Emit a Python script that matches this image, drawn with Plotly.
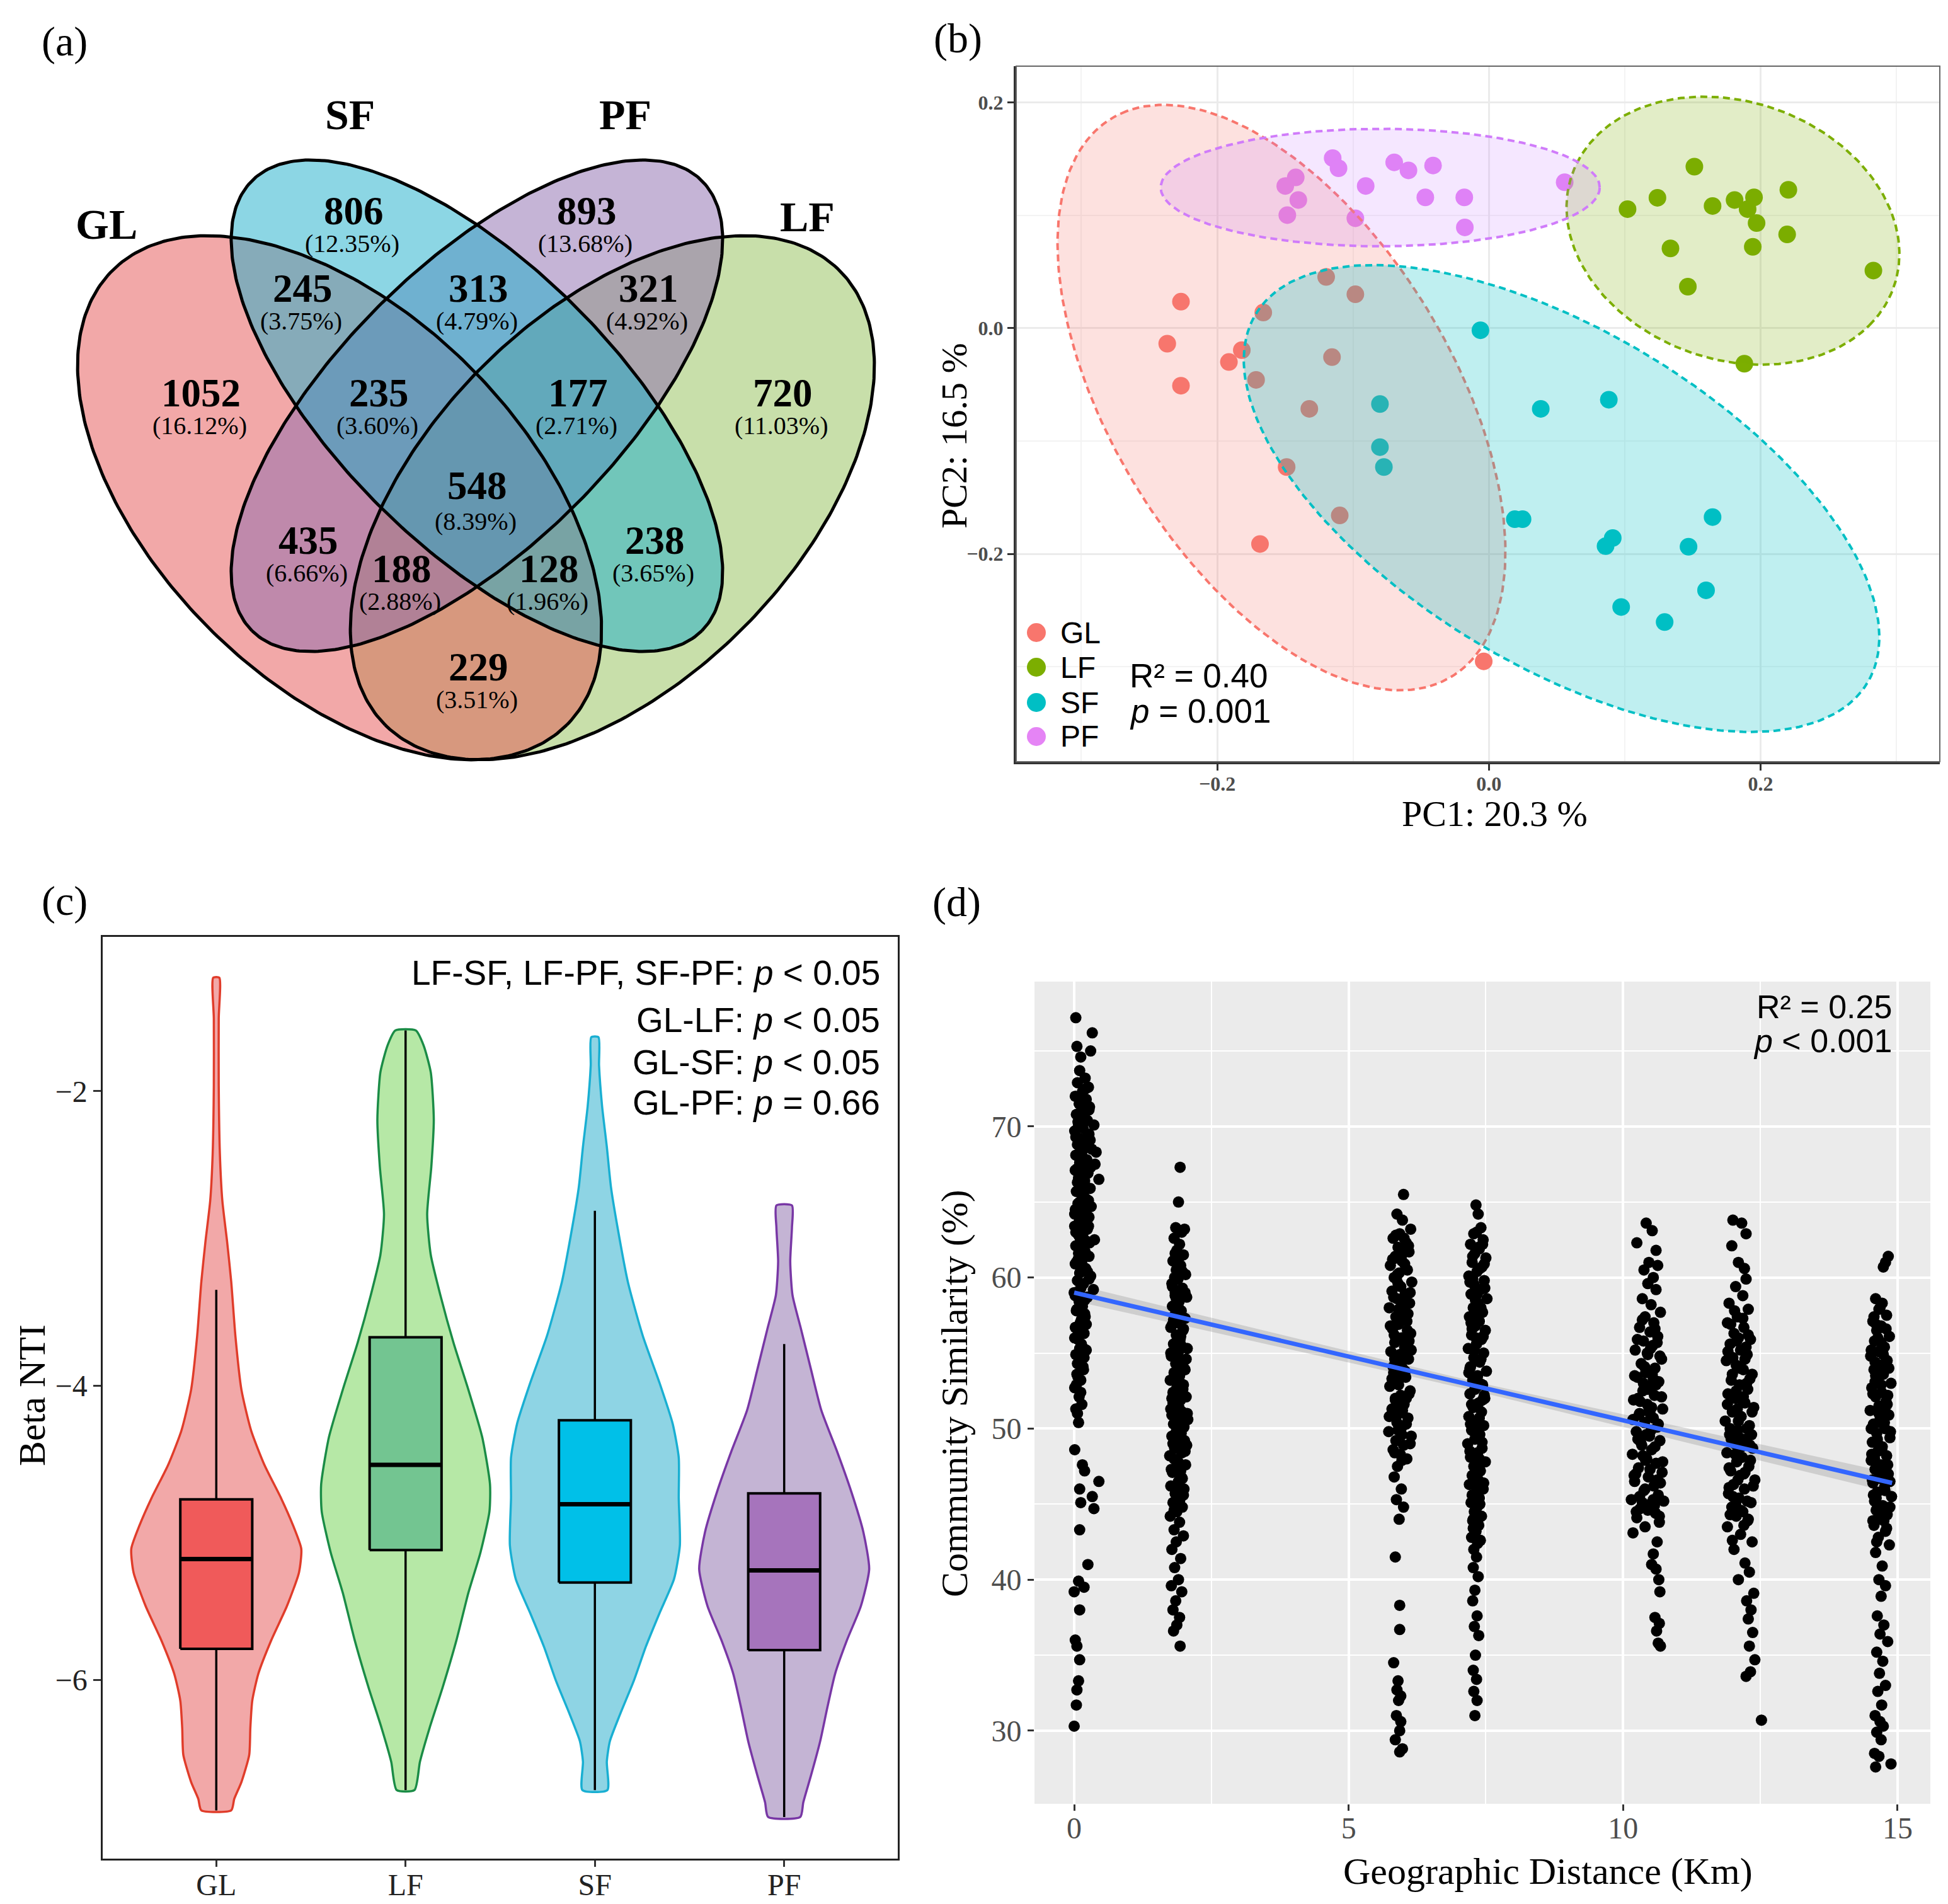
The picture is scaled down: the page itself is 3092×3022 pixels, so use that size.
import numpy as np
import plotly.graph_objects as go

W, H = 3092, 3022
SERIF = "Liberation Serif, Times New Roman, serif"
SANS = "Liberation Sans, Arial, sans-serif"


def pp(x, y):
    return x / W, 1 - y / H

# ======================= DATA =======================
# (a) Venn diagram
venn_counts = [1052, 806, 893, 720, 245, 313, 321, 235, 177, 548, 435, 188, 128, 238, 229]
venn_percent = ["16.12%", "12.35%", "13.68%", "11.03%", "3.75%", "4.79%", "4.92%",
                "3.60%", "2.71%", "8.39%", "6.66%", "2.88%", "1.96%", "3.65%", "3.51%"]
venn_sets = ["GL", "SF", "PF", "LF"]

# (b) PCoA
pc_groups = ["GL", "LF", "SF", "PF"]
gl_pc1 = [-0.2267, -0.2368, -0.2267, -0.1819, -0.1914, -0.1714, -0.1661, -0.1198, -0.0983, -0.1155, -0.1322, -0.1489, -0.1098, -0.1685, -0.0038]
gl_pc2 = [0.0234, -0.0138, -0.0510, -0.0195, -0.0300, -0.0458, 0.0138, 0.0453, 0.0300, -0.0257, -0.0715, -0.1230, -0.1659, -0.1912, -0.2951]
lf_pc1 = [0.1513, 0.1021, 0.1241, 0.1647, 0.1809, 0.1952, 0.1905, 0.2205, 0.1971, 0.2196, 0.1337, 0.1943, 0.1465, 0.2831, 0.1881]
lf_pc2 = [0.1430, 0.1054, 0.1154, 0.1082, 0.1135, 0.1158, 0.1054, 0.1225, 0.0930, 0.0830, 0.0706, 0.0720, 0.0367, 0.0510, -0.0315]
sf_pc1 = [-0.0062, -0.0802, -0.0802, -0.0773, 0.0382, 0.0883, 0.0191, 0.0248, 0.0912, 0.0859, 0.1647, 0.1470, 0.1599, 0.0974, 0.1294]
sf_pc2 = [-0.0019, -0.0672, -0.1054, -0.1230, -0.0715, -0.0634, -0.1692, -0.1692, -0.1859, -0.1931, -0.1673, -0.1936, -0.2322, -0.2470, -0.2603]
pf_pc1 = [-0.1150, -0.1107, -0.1422, -0.1499, -0.1403, -0.1484, -0.0983, -0.0907, -0.0697, -0.0592, -0.0411, -0.0468, -0.0181, -0.0177, 0.0558]
pf_pc2 = [0.1506, 0.1416, 0.1335, 0.1259, 0.1135, 0.1001, 0.0973, 0.1259, 0.1468, 0.1397, 0.1440, 0.1158, 0.1158, 0.0892, 0.1292]
# 95% ellipses: centre x, centre y, semi-major, semi-minor, angle (deg)
ell_cx = [-0.1527, 0.1797, 0.0535, -0.0800]
ell_cy = [-0.0615, 0.0863, -0.1509, 0.1245]
ell_a = [0.2781, 0.1308, 0.2794, 0.1616]
ell_b = [0.1306, 0.1095, 0.1393, 0.0520]
ell_ang = [114.2, -39.8, -39.1, 0.0]

# (c) Beta NTI violins (y level, half width in category units)
vio_gl_y = [-1.228, -1.504, -1.963, -2.423, -2.744, -3.020, -3.295, -3.663, -4.030, -4.306, -4.536, -4.765, -4.949, -5.110, -5.271, -5.500, -5.730, -5.960, -6.143, -6.327, -6.511, -6.695, -6.810, -6.888]
vio_gl_w = [0.016, 0.013, 0.013, 0.019, 0.032, 0.057, 0.079, 0.101, 0.133, 0.184, 0.253, 0.342, 0.405, 0.449, 0.437, 0.373, 0.291, 0.222, 0.190, 0.180, 0.174, 0.133, 0.095, 0.079]
vio_lf_y = [-1.587, -1.688, -1.871, -2.193, -2.514, -2.836, -3.112, -3.387, -3.709, -4.030, -4.352, -4.673, -4.857, -5.133, -5.408, -5.730, -6.051, -6.327, -6.557, -6.750]
vio_lf_w = [0.054, 0.095, 0.133, 0.149, 0.136, 0.114, 0.133, 0.184, 0.253, 0.332, 0.405, 0.446, 0.443, 0.396, 0.332, 0.269, 0.196, 0.127, 0.076, 0.047]
vio_sf_y = [-1.633, -1.825, -2.101, -2.377, -2.652, -2.928, -3.295, -3.663, -3.984, -4.260, -4.490, -4.765, -5.087, -5.316, -5.546, -5.776, -6.006, -6.235, -6.419, -6.557, -6.750]
vio_sf_w = [0.019, 0.022, 0.038, 0.063, 0.085, 0.120, 0.174, 0.253, 0.342, 0.411, 0.443, 0.443, 0.449, 0.418, 0.342, 0.269, 0.206, 0.133, 0.079, 0.063, 0.066]
vio_pf_y = [-2.776, -2.928, -3.158, -3.387, -3.617, -3.893, -4.168, -4.444, -4.720, -4.995, -5.248, -5.500, -5.730, -5.960, -6.189, -6.419, -6.649, -6.833, -6.933]
vio_pf_w = [0.041, 0.041, 0.032, 0.044, 0.089, 0.142, 0.196, 0.278, 0.354, 0.418, 0.449, 0.405, 0.332, 0.269, 0.228, 0.190, 0.142, 0.101, 0.085]
nti_groups = ["GL", "LF", "SF", "PF"]
box_q1 = [-5.79, -5.119, -5.339, -5.799]
box_median = [-5.18, -4.54, -4.807, -5.257]
box_q3 = [-4.774, -3.672, -4.237, -4.733]
box_low = [-6.888, -6.75, -6.75, -6.933]
box_high = [-3.35, -1.587, -2.813, -3.718]

# (d) Community similarity vs. geographic distance (x km, y %)
d_col0 = [(0.03,77.2),(0.33,76.2),(0.05,75.3),(0.30,75.0),(0.12,74.6),(0.10,73.7),(0.20,73.2),(0.06,72.9),(0.26,72.6),(0.15,72.3),
          (0.02,72.0),(0.22,71.8),(0.09,71.5),(0.28,71.3),(0.13,71.0),(0.04,70.8),(0.19,70.6),(0.24,70.4),(0.36,70.1),(0.08,70.1),
          (0.16,69.9),(0.01,69.7),(0.27,69.5),(0.11,69.2),(0.21,69.0),(0.06,68.8),(0.32,68.5),(0.14,68.3),(0.40,68.3),(0.03,68.1),
          (0.23,67.8),(0.10,67.6),(0.38,67.5),(0.17,67.4),(0.02,67.1),(0.25,66.9),(0.08,66.6),(0.45,66.5),(0.19,66.4),(0.12,66.2),
          (0.29,65.9),(0.04,65.7),(0.15,65.4),(0.22,65.2),(0.07,64.9),(0.31,64.7),(0.13,64.4),(0.01,64.2),(0.20,63.9),(0.09,63.7),
          (0.26,63.4),(0.05,63.1),(0.16,62.9),(0.11,62.6),(0.37,62.5),(0.23,62.4),(0.03,62.1),(0.18,61.9),(0.08,61.6),(0.27,61.4),
          (0.14,61.1),(0.02,60.9),(0.21,60.6),(0.10,60.3),(0.30,60.1),(0.06,59.8),(0.17,59.6),(0.12,59.3),(0.35,59.2),(0.00,59.0),
          (0.24,58.7),(0.09,58.4),(0.15,58.1),(0.04,57.8),(0.20,57.4),(0.11,57.0),(0.02,56.7),(0.18,56.3),(0.07,55.9),(0.13,55.6),
          (0.22,55.2),(0.03,54.9),(0.10,54.5),(0.16,54.1),(0.05,53.6),(0.12,53.2),(0.01,52.7),(0.09,52.1),(0.14,51.6),(0.06,51.0),
          (0.08,50.4),(0.01,48.6),(0.15,47.6),(0.19,47.2),(0.45,46.5),(0.10,46.0),(0.33,45.5),(0.12,45.1),(0.36,44.7),(0.10,43.3),
          (0.25,41.0),(0.08,39.9),(0.18,39.5),(0.00,39.2),(0.10,38.0),(0.02,36.0),(0.05,35.6),(0.10,34.7),(0.08,33.3),(0.05,32.7),
          (0.04,31.7),(0.00,30.3),
          (0.18,71.6),(0.07,70.3),(0.25,69.4),(0.13,68.6),(0.05,67.2),(0.20,66.0),(0.10,65.0),(0.27,64.0),(0.03,63.0),(0.19,62.2),
          (0.07,61.2),(0.24,60.4),(0.14,59.5),(0.02,58.8),(0.19,57.6),(0.09,56.5),(0.15,55.4),(0.06,54.3),(0.17,53.9),(0.04,52.9),
          (0.11,70.9),(0.29,69.1),(0.14,66.8),(0.22,64.6),(0.12,62.0),
          (0.21,72.5),(0.08,71.9),(0.27,71.1),(0.16,70.2),(0.03,69.3),(0.23,68.9),(0.11,68.0),(0.30,67.3),(0.06,66.3),(0.17,65.6),
          (0.26,65.1),(0.02,64.5),(0.13,63.6),(0.24,63.2),(0.08,62.8),(0.20,61.7),(0.04,61.0),(0.15,60.7),(0.27,59.9),(0.09,59.1),
          (0.19,58.5),(0.05,57.9),(0.13,57.2),(0.22,56.9),(0.01,56.0),(0.10,55.3),(0.18,54.7),(0.07,53.4),(0.12,52.4),(0.03,51.3),
          (0.16,70.7),(0.25,67.0),(0.12,64.8),(0.01,63.4),(0.28,62.3)]
d_col1 = [(1.93,67.3),(1.90,65.0),(1.85,63.3),(2.01,63.2),(1.96,63.0),(1.82,62.6),(1.92,62.2),(1.87,61.8),(1.99,61.5),(1.80,61.1),
          (1.94,60.8),(1.86,60.5),(2.03,60.2),(1.89,59.9),(1.78,59.6),(1.97,59.3),(1.84,59.0),(2.05,58.7),(1.91,58.4),(1.79,58.1),
          (1.95,57.8),(1.83,57.5),(2.02,57.3),(1.88,57.0),(1.76,56.7),(1.98,56.5),(1.86,56.2),(1.93,55.9),(1.81,55.6),(2.06,55.3),
          (1.90,55.1),(1.77,54.8),(1.96,54.5),(1.85,54.3),(2.00,54.0),(1.82,53.7),(1.92,53.5),(1.75,53.2),(1.99,52.9),(1.87,52.7),
          (1.80,52.4),(2.04,52.1),(1.94,51.9),(1.84,51.6),(1.76,51.3),(1.97,51.1),(1.89,50.8),(2.07,50.6),(1.81,50.3),(1.93,50.0),
          (1.86,49.8),(1.78,49.5),(2.01,49.2),(1.91,49.0),(1.83,48.7),(1.96,48.4),(1.74,48.2),(1.88,47.9),(2.03,47.6),(1.85,47.4),
          (1.79,47.1),(1.95,46.8),(1.90,46.5),(1.76,46.2),(2.00,46.0),(1.84,45.7),(1.93,45.4),(1.80,45.1),(1.97,44.8),(1.87,44.5),
          (1.75,44.2),(1.92,43.8),(1.82,43.3),(1.99,42.9),(1.86,42.5),(1.78,42.0),(1.94,41.4),(1.83,40.8),(1.90,40.0),(1.77,39.6),
          (1.96,39.2),(1.85,38.6),(1.80,38.0),(1.92,37.5),(1.87,37.0),(1.81,36.6),(1.93,35.6),
          (1.91,61.3),(1.83,60.0),(1.98,58.9),(1.88,57.9),(1.79,56.9),(1.95,55.5),(1.85,54.9),(2.02,53.9),(1.90,52.3),(1.80,51.7),
          (1.96,50.4),(1.87,49.4),(2.05,48.9),(1.82,48.0),(1.94,47.2),(1.89,46.4),(1.99,45.6),(1.78,50.9),(1.92,53.1),(1.86,58.6),
          (1.84,61.6),(1.97,60.4),(1.79,59.4),(2.02,59.0),(1.90,58.0),(1.81,57.2),(1.99,56.6),(1.87,55.8),(1.76,55.0),(2.04,54.6),
          (1.93,54.2),(1.83,53.3),(1.98,52.6),(1.78,52.0),(1.91,51.4),(2.06,51.0),(1.85,50.5),(1.95,49.7),(1.80,49.0),(2.02,48.5),
          (1.89,47.8),(1.77,47.3),(1.97,46.7),(1.86,46.0),(1.92,45.2),(1.82,44.6),(2.00,50.1),(1.88,53.8),(1.94,56.1),(1.84,58.8)]
d_col2 = [(6.00,65.5),(5.88,64.2),(5.98,63.8),(6.13,63.2),(5.93,62.9),(5.81,62.6),(6.05,62.3),(5.90,62.0),(6.10,61.7),(5.85,61.4),
          (5.97,61.1),(5.76,60.8),(6.07,60.5),(5.92,60.3),(5.83,60.0),(6.15,59.7),(5.95,59.4),(5.79,59.1),(6.03,58.9),(5.88,58.6),
          (6.11,58.3),(5.74,58.0),(5.99,57.7),(5.86,57.4),(6.06,57.1),(5.91,56.9),(5.80,56.6),(6.13,56.3),(5.96,56.0),(5.84,55.7),
          (6.02,55.4),(5.77,55.1),(5.93,54.9),(6.09,54.6),(5.87,54.3),(5.98,54.0),(5.82,53.7),(6.04,53.4),(5.90,53.1),(5.75,52.8),
          (6.12,52.5),(5.95,52.2),(5.85,51.9),(6.01,51.6),(5.79,51.3),(5.92,51.0),(6.08,50.7),(5.88,50.4),(5.97,50.1),(5.73,49.8),
          (6.14,49.5),(5.86,49.2),(6.00,48.9),(5.81,48.6),(5.94,48.3),(6.06,48.0),(5.89,47.5),(5.83,46.8),(5.96,46.0),(5.87,45.3),
          (6.00,44.8),(5.92,44.0),(5.85,41.5),(5.93,38.3),(5.93,36.7),(5.82,34.5),(5.90,33.3),(5.88,32.7),(5.95,32.3),(5.91,32.0),
          (5.87,31.0),(5.95,30.6),(5.93,30.0),(5.85,29.4),(5.98,28.8),(5.93,28.6),
          (5.94,61.9),(6.02,60.9),(5.87,59.9),(5.96,58.4),(6.08,57.6),(5.83,56.2),(5.99,55.0),(5.89,53.6),(6.05,52.0),(5.78,50.9),
          (5.97,49.6),(5.91,57.9),(6.01,62.6),(5.84,54.6),(5.95,51.4),(6.10,55.8),
          (5.86,62.8),(6.09,62.1),(5.97,61.5),(5.80,61.2),(6.04,60.6),(5.90,59.6),(6.12,59.0),(5.82,58.7),(6.00,58.1),(5.93,57.2),
          (5.76,56.8),(6.07,56.5),(5.88,55.9),(6.14,55.2),(5.95,54.4),(5.81,54.1),(6.03,53.8),(5.91,52.9),(6.10,52.3),(5.85,52.0),
          (5.98,51.2),(5.74,50.8),(6.05,50.3),(5.90,49.9),(6.12,49.0),(5.84,48.4),(5.97,47.9),(6.02,56.0),(5.89,60.2),(5.79,53.3)]
d_col3 = [(7.32,64.8),(7.36,64.2),(7.41,63.3),(7.28,62.9),(7.45,62.5),(7.22,62.2),(7.38,61.9),(7.30,61.6),(7.50,61.3),(7.25,61.0),
          (7.43,60.7),(7.34,60.4),(7.19,60.1),(7.47,59.8),(7.29,59.5),(7.40,59.2),(7.23,58.9),(7.52,58.6),(7.35,58.3),(7.27,58.0),
          (7.44,57.7),(7.20,57.4),(7.38,57.1),(7.31,56.8),(7.49,56.5),(7.24,56.2),(7.42,55.9),(7.33,55.6),(7.18,55.3),(7.46,55.0),
          (7.28,54.7),(7.39,54.4),(7.22,54.1),(7.51,53.8),(7.35,53.5),(7.26,53.2),(7.44,52.9),(7.30,52.6),(7.21,52.3),(7.48,52.0),
          (7.37,51.7),(7.27,51.4),(7.42,51.1),(7.19,50.8),(7.33,50.5),(7.46,50.2),(7.24,49.9),(7.39,49.6),(7.30,49.3),(7.17,49.0),
          (7.43,48.7),(7.35,48.4),(7.22,48.1),(7.49,47.8),(7.28,47.5),(7.40,47.2),(7.25,46.9),(7.36,46.6),(7.20,46.3),(7.45,46.0),
          (7.31,45.7),(7.38,45.4),(7.23,45.1),(7.34,44.8),(7.29,44.5),(7.42,44.2),(7.26,43.9),(7.37,43.6),(7.32,43.2),(7.24,42.8),
          (7.35,42.4),(7.28,42.0),(7.33,41.5),(7.27,40.8),(7.36,40.2),(7.30,39.3),(7.26,38.6),(7.34,37.6),(7.29,36.9),(7.37,36.3),
          (7.31,35.0),(7.27,34.0),(7.33,33.4),(7.28,32.6),(7.34,32.0),(7.30,31.0),
          (7.36,62.0),(7.26,59.9),(7.41,58.0),(7.32,56.0),(7.21,54.0),(7.44,51.9),(7.29,50.0),(7.38,48.0),(7.34,46.0),(7.27,44.0),
          (7.39,53.0),(7.23,57.0),(7.47,60.9),
          (7.33,63.0),(7.44,62.2),(7.26,61.4),(7.39,60.6),(7.21,59.7),(7.48,59.3),(7.31,58.5),(7.37,57.5),(7.25,56.6),(7.45,56.1),
          (7.29,55.2),(7.41,54.6),(7.19,53.7),(7.34,52.8),(7.47,52.2),(7.24,51.6),(7.38,50.7),(7.28,49.8),(7.43,49.1),(7.21,48.5),
          (7.36,47.7),(7.30,47.0),(7.46,46.4),(7.25,45.6),(7.39,45.0),(7.32,44.3),(7.27,43.4),(7.40,42.6),(7.34,58.9),(7.22,50.3)]
d_col4 = [(10.42,63.6),(10.53,63.1),(10.25,62.3),(10.60,61.8),(10.47,61.0),(10.63,60.8),(10.38,60.5),(10.55,60.0),(10.45,59.6),(10.60,59.2),
          (10.35,58.6),(10.51,58.2),(10.68,57.7),(10.40,57.4),(10.56,57.0),(10.30,56.7),(10.49,56.4),(10.63,56.1),(10.37,55.8),(10.54,55.5),
          (10.22,55.2),(10.45,54.9),(10.70,54.6),(10.33,54.3),(10.58,54.0),(10.41,53.7),(10.26,53.4),(10.65,53.1),(10.50,52.8),(10.36,52.5),
          (10.57,52.2),(10.19,51.9),(10.44,51.6),(10.72,51.3),(10.30,51.0),(10.55,50.7),(10.39,50.4),(10.62,50.1),(10.24,49.8),(10.48,49.5),
          (10.67,49.2),(10.34,48.9),(10.52,48.6),(10.17,48.3),(10.43,48.0),(10.60,47.7),(10.28,47.4),(10.71,47.1),(10.46,46.8),(10.21,46.5),
          (10.56,46.2),(10.38,45.9),(10.64,45.6),(10.15,45.3),(10.49,45.0),(10.31,44.7),(10.59,44.4),(10.25,44.1),(10.66,43.8),(10.40,43.5),
          (10.18,43.1),(10.62,42.5),(10.55,41.7),(10.52,41.0),(10.60,40.7),(10.65,40.0),(10.67,39.2),(10.58,37.5),(10.66,37.1),(10.61,36.6),
          (10.64,35.8),(10.68,35.6),
          (10.44,55.0),(10.60,52.9),(10.29,50.9),(10.51,49.9),(10.41,47.9),(10.68,46.4),(10.35,45.1),(10.53,53.6),(10.23,47.0),(10.47,51.2),
          (10.62,55.7),(10.32,49.1),(10.57,44.9),(10.27,52.0),(10.74,45.2),
          (10.35,57.2),(10.58,56.6),(10.26,55.9),(10.50,55.3),(10.67,54.8),(10.39,54.1),(10.21,53.5),(10.55,53.3),(10.45,52.6),(10.70,52.1),
          (10.31,51.8),(10.52,51.4),(10.18,50.6),(10.64,50.3),(10.42,49.6),(10.27,49.3),(10.58,48.8),(10.36,48.2),(10.72,47.8),(10.49,47.3),
          (10.20,46.9),(10.62,46.6),(10.40,46.0),(10.30,45.5),(10.55,45.3),(10.45,44.6),(10.66,44.2),(10.24,44.5),(10.50,50.9),(10.37,53.0)]
d_col5 = [(12.00,63.8),(12.16,63.6),(12.24,62.9),(11.98,62.1),(12.10,61.0),(12.21,60.6),(12.24,59.9),(12.05,59.4),(12.18,58.8),(11.93,58.3),
          (12.28,57.9),(12.08,57.4),(11.90,57.0),(12.20,56.7),(12.02,56.3),(12.32,55.9),(11.95,55.6),(12.14,55.2),(12.26,54.9),(11.88,54.5),
          (12.06,54.2),(12.19,53.9),(12.35,53.6),(11.97,53.2),(12.12,52.9),(12.27,52.6),(11.91,52.3),(12.04,52.0),(12.22,51.7),(12.38,51.4),
          (11.99,51.1),(12.15,50.8),(11.86,50.5),(12.30,50.2),(12.09,49.9),(11.94,49.6),(12.24,49.3),(12.03,49.0),(12.36,48.7),(11.89,48.4),
          (12.17,48.1),(12.07,47.8),(12.29,47.5),(11.96,47.2),(12.13,46.9),(12.40,46.6),(12.01,46.3),(12.21,46.0),(11.92,45.7),(12.11,45.4),
          (12.33,45.1),(11.98,44.8),(12.18,44.5),(12.06,44.2),(12.27,43.9),(11.90,43.5),(12.14,43.0),(12.35,42.5),(12.02,42.0),(12.22,41.1),
          (12.30,40.5),(12.10,40.0),(12.38,39.1),(12.25,38.6),(12.33,38.0),(12.28,37.4),(12.36,36.5),(12.30,35.6),(12.40,34.7),(12.32,33.9),
          (12.24,33.6),(12.52,30.7),
          (12.10,56.0),(12.25,53.0),(11.95,50.0),(12.20,47.0),(12.05,45.0),(12.31,48.9),(12.00,54.7),(12.16,51.9),(11.93,46.1),(12.28,44.0),
          (12.12,49.4),(12.03,57.8),(12.24,55.4),(11.99,42.6),
          (12.18,57.3),(11.96,56.9),(12.28,56.2),(12.07,55.8),(11.91,55.1),(12.22,54.6),(12.12,54.0),(11.99,53.6),(12.31,53.3),(12.06,52.5),
          (12.19,52.1),(11.90,51.6),(12.35,51.1),(12.10,50.5),(12.25,50.0),(11.97,49.3),(12.16,48.8),(12.04,48.3),(12.32,47.9),(11.93,47.4),
          (12.22,47.1),(12.09,46.6),(12.37,46.2),(12.00,45.5),(12.26,45.2),(12.14,44.6),(11.95,44.3),(12.20,43.6),(12.34,49.6),(12.08,51.3)]
d_col6 = [(14.83,61.4),(14.78,61.0),(14.74,60.7),(14.60,58.6),(14.72,58.3),(14.66,57.9),(14.80,57.5),(14.55,57.1),(14.70,56.8),(14.62,56.5),
          (14.85,56.1),(14.58,55.8),(14.76,55.4),(14.65,55.1),(14.51,54.8),(14.81,54.5),(14.69,54.2),(14.57,53.9),(14.74,53.6),(14.63,53.3),
          (14.88,53.0),(14.53,52.7),(14.71,52.4),(14.60,52.1),(14.79,51.8),(14.66,51.5),(14.50,51.2),(14.84,50.9),(14.68,50.6),(14.56,50.3),
          (14.77,50.0),(14.62,49.7),(14.86,49.4),(14.54,49.1),(14.72,48.8),(14.64,48.5),(14.80,48.2),(14.52,47.9),(14.70,47.6),(14.59,47.3),
          (14.83,47.0),(14.67,46.7),(14.55,46.4),(14.76,46.1),(14.63,45.8),(14.89,45.5),(14.58,45.2),(14.73,44.9),(14.61,44.6),(14.81,44.3),
          (14.69,44.0),(14.57,43.6),(14.78,43.2),(14.65,42.8),(14.85,42.3),(14.60,41.8),(14.72,40.9),(14.66,40.0),(14.78,39.6),(14.70,38.9),
          (14.63,37.6),(14.75,37.0),(14.68,36.4),(14.82,35.9),(14.62,35.2),(14.73,34.6),(14.67,33.8),(14.78,33.0),(14.64,32.6),(14.71,31.7),
          (14.59,31.0),(14.68,30.6),(14.74,30.3),(14.62,29.9),(14.70,29.4),(14.58,28.5),(14.66,28.3),(14.88,27.8),(14.60,27.6),
          (14.70,55.7),(14.59,53.1),(14.78,51.1),(14.64,49.0),(14.74,47.1),(14.56,45.6),(14.82,52.2),(14.67,50.4),(14.61,56.9),(14.75,43.9),
          (14.53,48.3),(14.86,46.5),(14.69,53.8),
          (14.68,58.0),(14.57,57.4),(14.79,56.6),(14.64,56.0),(14.52,55.2),(14.74,54.9),(14.84,54.0),(14.60,53.5),(14.70,52.9),(14.55,52.3),
          (14.81,51.6),(14.66,51.0),(14.76,50.4),(14.52,50.0),(14.87,49.8),(14.63,49.3),(14.71,48.6),(14.58,48.0),(14.82,47.6),(14.68,47.0),
          (14.54,46.6),(14.77,45.9),(14.61,45.4),(14.86,44.8),(14.66,44.3),(14.55,43.9),(14.80,43.4),(14.62,42.5),(14.73,50.9),(14.59,54.4)]
fit_x = [0.0, 7.3, 14.9]
fit_y = [59.0, 52.8, 46.4]
fit_se = [0.55, 0.30, 0.65]

# ======================= STYLE / LAYOUT CONSTANTS =======================
venn_fill = {"GL": (229, 81, 81), "SF": (25, 173, 201), "PF": (139, 105, 173), "LF": (145, 191, 85)}
venn_geom = {"GL": (531, 782, 510, 293, 45), "LF": (964, 782, 510, 293, 135),
             "SF": (749, 636, 505, 222, 45), "PF": (749, 636, 505, 222, 135)}
venn_draw_order = ["LF", "GL", "PF", "SF"]
venn_num_pos = [(311, 616), (553, 327), (923, 327), (1234, 616), (472, 450), (751, 450), (1021, 450),
                (593, 616), (909, 616), (749, 763), (481, 850), (629, 895), (863, 895), (1031, 850), (751, 1051)]
venn_set_pos = {"GL": (161, 348), "SF": (547, 174), "PF": (984, 174), "LF": (1273, 336)}

pc_pt_color = {"GL": "#F8766D", "LF": "#7CAE00", "SF": "#00BFC4", "PF": "#E584F5"}
pc_line_color = {"GL": "#F8766D", "LF": "#7CAE00", "SF": "#00BFC4", "PF": "#D07CFA"}
pc_fill = {"GL": "rgba(248,118,109,0.22)", "LF": "rgba(124,174,0,0.22)",
           "SF": "rgba(0,191,196,0.25)", "PF": "rgba(199,124,255,0.18)"}

vio_fill = ["#F2A8A8", "#B6E8A6", "#8ED4E4", "#C4B4D4"]
vio_line = ["#E03C2A", "#1A8C46", "#19AFD2", "#7837A5"]
box_fill = ["#F05A5A", "#73C591", "#00C0E8", "#A674BC"]
BOX_HALF = 0.19

fig = go.Figure()

# ----------------------- (a) Venn -----------------------
tt = np.linspace(0, 2 * np.pi, 361)


def ell_path(cx, cy, a, b, ang):
    th = np.deg2rad(ang)
    ex, ey = a * np.cos(tt), b * np.sin(tt)
    return cx + ex * np.cos(th) - ey * np.sin(th), cy + ex * np.sin(th) + ey * np.cos(th)


for s in venn_draw_order:
    xs, ys = ell_path(*venn_geom[s])
    r, g, b = venn_fill[s]
    fig.add_trace(go.Scatter(x=xs, y=ys, mode="lines", fill="toself", line=dict(width=0),
                             fillcolor=f"rgba({r},{g},{b},0.5)", xaxis="x", yaxis="y",
                             hoverinfo="skip", showlegend=False))
for s in venn_draw_order:
    xs, ys = ell_path(*venn_geom[s])
    fig.add_trace(go.Scatter(x=xs, y=ys, mode="lines", line=dict(color="black", width=5),
                             xaxis="x", yaxis="y", hoverinfo="skip", showlegend=False))

ann = []
for (xq, yq), c, p in zip(venn_num_pos, venn_counts, venn_percent):
    ann.append(dict(x=xq, y=yq, xref="x", yref="y", text=f"<b>{c}</b>", showarrow=False,
                    font=dict(family=SERIF, size=63, color="black")))
    ann.append(dict(x=xq - 2, y=yq + (56 if c == 548 else 51), xref="x", yref="y", text=f"({p})",
                    showarrow=False, font=dict(family=SERIF, size=40, color="black")))
for s in venn_sets:
    xq, yq = venn_set_pos[s]
    ann.append(dict(x=xq, y=yq, xref="x", yref="y", text=f"<b>{s}</b>", showarrow=False,
                    font=dict(family=SERIF, size=68, color="black")))

# ----------------------- (b) PCoA -----------------------
pc_data = {"GL": (gl_pc1, gl_pc2), "LF": (lf_pc1, lf_pc2), "SF": (sf_pc1, sf_pc2), "PF": (pf_pc1, pf_pc2)}
for gname in pc_groups:
    xs, ys = pc_data[gname]
    fig.add_trace(go.Scatter(x=xs, y=ys, mode="markers", xaxis="x2", yaxis="y2",
                             marker=dict(size=28, color=pc_pt_color[gname], line=dict(width=0)),
                             showlegend=False, hoverinfo="skip"))
te = np.linspace(0, 2 * np.pi, 240)
for i, gname in enumerate(pc_groups):
    th = np.deg2rad(ell_ang[i])
    ex, ey = ell_a[i] * np.cos(te), ell_b[i] * np.sin(te)
    xs = ell_cx[i] + ex * np.cos(th) - ey * np.sin(th)
    ys = ell_cy[i] + ex * np.sin(th) + ey * np.cos(th)
    fig.add_trace(go.Scatter(x=xs, y=ys, mode="lines", fill="toself", fillcolor=pc_fill[gname],
                             line=dict(color=pc_line_color[gname], width=4, dash="11px,7px"),
                             xaxis="x2", yaxis="y2", showlegend=False, hoverinfo="skip"))

# ----------------------- (c) Violins + boxes -----------------------
vio_y = [vio_gl_y, vio_lf_y, vio_sf_y, vio_pf_y]
vio_w = [vio_gl_w, vio_lf_w, vio_sf_w, vio_pf_w]
for i in range(4):
    pos = i + 1
    yv = np.array(vio_y[i]); wv = np.array(vio_w[i])
    xs = np.concatenate([pos - wv, (pos + wv)[::-1], [pos - wv[0]]])
    ys = np.concatenate([yv, yv[::-1], [yv[0]]])
    fig.add_trace(go.Scatter(x=xs, y=ys, mode="lines", fill="toself", fillcolor=vio_fill[i],
                             line=dict(color=vio_line[i], width=3.5, shape="spline", smoothing=0.6),
                             xaxis="x3", yaxis="y3", showlegend=False, hoverinfo="skip"))
for i in range(4):
    pos = i + 1
    fig.add_trace(go.Scatter(x=[pos, pos], y=[box_low[i], box_high[i]], mode="lines",
                             line=dict(color="black", width=3.5), xaxis="x3", yaxis="y3",
                             showlegend=False, hoverinfo="skip"))
    fig.add_trace(go.Scatter(x=[pos - BOX_HALF, pos + BOX_HALF, pos + BOX_HALF, pos - BOX_HALF, pos - BOX_HALF],
                             y=[box_q1[i], box_q1[i], box_q3[i], box_q3[i], box_q1[i]], mode="lines",
                             fill="toself", fillcolor=box_fill[i], line=dict(color="black", width=4),
                             xaxis="x3", yaxis="y3", showlegend=False, hoverinfo="skip"))
    fig.add_trace(go.Scatter(x=[pos - BOX_HALF, pos + BOX_HALF], y=[box_median[i], box_median[i]], mode="lines",
                             line=dict(color="black", width=7), xaxis="x3", yaxis="y3",
                             showlegend=False, hoverinfo="skip"))

# ----------------------- (d) Scatter -----------------------
fx = np.array(fit_x); fy = np.array(fit_y); fse = np.array(fit_se)
fig.add_trace(go.Scatter(x=np.concatenate([fx, fx[::-1]]), y=np.concatenate([fy + fse, (fy - fse)[::-1]]),
                         mode="lines", fill="toself", fillcolor="rgba(153,153,153,0.35)", line=dict(width=0),
                         xaxis="x4", yaxis="y4", showlegend=False, hoverinfo="skip"))
allpts = d_col0 + d_col1 + d_col2 + d_col3 + d_col4 + d_col5 + d_col6
fig.add_trace(go.Scatter(x=[p[0] for p in allpts], y=[p[1] for p in allpts], mode="markers",
                         marker=dict(size=18, color="black", line=dict(width=0)),
                         xaxis="x4", yaxis="y4", showlegend=False, hoverinfo="skip"))
fig.add_trace(go.Scatter(x=fx, y=fy, mode="lines", line=dict(color="#3366FF", width=7),
                         xaxis="x4", yaxis="y4", showlegend=False, hoverinfo="skip"))

# ----------------------- annotations / text -----------------------
def pann(x, y, text, size, family=SERIF, xanchor="center", angle=0, color="black"):
    ax, ay = pp(x, y)
    return dict(x=ax, y=ay, xref="paper", yref="paper", text=text, showarrow=False, xanchor=xanchor,
                yanchor="middle", textangle=angle, font=dict(family=family, size=size, color=color))

ann += [pann(94, 58, "(a)", 66), pann(1512, 53, "(b)", 66), pann(94, 1422, "(c)", 66), pann(1510, 1424, "(d)", 66)]
ann += [pann(2364, 1284, "PC1: 20.3 %", 58), pann(1506, 684, "PC2: 16.5 %", 58, angle=-90)]
ann += [pann(1783, 1064, "R² = 0.40", 53, SANS, "left"), pann(1783, 1120, "<i>p</i> = 0.001", 53, SANS, "left")]
leg_y = [996, 1051, 1107, 1161]
shapes = []
for gname, ly in zip(pc_groups, leg_y):
    x0, y0 = pp(1622, ly - 15); x1, y1 = pp(1652, ly + 15)
    shapes.append(dict(type="circle", xref="paper", yref="paper", x0=x0, x1=x1, y0=y1, y1=y0,
                       fillcolor=pc_pt_color[gname], line=dict(width=0)))
    ann.append(pann(1673, ly, gname, 48, SANS, "left"))

ann += [pann(43, 2207, "Beta NTI", 60, angle=-90)]
c_lines = ["LF-SF, LF-PF, SF-PF: <i>p</i> < 0.05", "GL-LF: <i>p</i> < 0.05", "GL-SF: <i>p</i> < 0.05", "GL-PF: <i>p</i> = 0.66"]
for txt, ly in zip(c_lines, [1536, 1611, 1678, 1742]):
    ann.append(pann(1391, ly, txt, 55, SANS, "right"))

ann += [pann(1507, 2204, "Community Similarity (%)", 60, angle=-90), pann(2449, 2962, "Geographic Distance (Km)", 60)]
ann += [pann(2997, 1590, "R² = 0.25", 52, SANS, "right"), pann(2997, 1644, "<i>p</i> < 0.001", 52, SANS, "right")]

shapes.append(dict(type="rect", xref="x2 domain", yref="y2 domain", x0=0, x1=1, y0=0, y1=1,
                   line=dict(color="#666666", width=2), layer="above"))
shapes.append(dict(type="rect", xref="x4 domain", yref="y4 domain", x0=0, x1=1, y0=0, y1=1,
                   fillcolor="#EBEBEB", line=dict(width=0), layer="below"))


def dom_x(a, b):
    return [a / W, b / W]


def dom_y(top, bottom):
    return [1 - bottom / H, 1 - top / H]


tick_b = dict(family=SERIF, size=32, color="#4D4D4D", weight="bold")
fig.update_layout(
    width=W, height=H, margin=dict(l=0, r=0, t=0, b=0), paper_bgcolor="white", plot_bgcolor="white",
    showlegend=False, annotations=ann, shapes=shapes,
    xaxis=dict(domain=dom_x(0, 1500), range=[0, 1500], visible=False, anchor="y"),
    yaxis=dict(domain=dom_y(0, 1300), range=[1300, 0], visible=False, anchor="x"),
    xaxis2=dict(domain=dom_x(1605, 3071), range=[-0.348, 0.332], anchor="y2", tickvals=[-0.2, 0, 0.2],
                ticktext=["−0.2", "0.0", "0.2"], ticks="outside", ticklen=10, tickwidth=3, tickcolor="#333",
                tickfont=tick_b, ticklabelstandoff=-6, showline=True, linecolor="#333", linewidth=4, zeroline=False,
                showgrid=True, gridcolor="#EBEBEB", gridwidth=2.5,
                minor=dict(tickvals=[-0.3, -0.1, 0.1, 0.3], showgrid=True, gridcolor="#F3F3F3", gridwidth=1.5)),
    yaxis2=dict(domain=dom_y(97, 1201), range=[-0.384, 0.232], anchor="x2", tickvals=[-0.2, 0, 0.2],
                ticktext=["−0.2", "0.0", "0.2"], ticks="outside", ticklen=10, tickwidth=3, tickcolor="#333",
                tickfont=tick_b, showline=True, linecolor="#333", linewidth=4, zeroline=False,
                showgrid=True, gridcolor="#EBEBEB", gridwidth=2.5,
                minor=dict(tickvals=[-0.3, -0.1, 0.1], showgrid=True, gridcolor="#F3F3F3", gridwidth=1.5)),
    xaxis3=dict(domain=dom_x(155, 1417), range=[0.4, 4.6], anchor="y3", tickvals=[1, 2, 3, 4],
                ticktext=nti_groups, ticks="outside", ticklen=10, tickwidth=3, tickcolor="#333",
                tickfont=dict(family=SERIF, size=48, color="#222"), ticklabelstandoff=-12,
                showline=True, mirror=True, linecolor="#222", linewidth=2.5, showgrid=False, zeroline=False),
    yaxis3=dict(domain=dom_y(1479, 2942), range=[-7.216, -0.951], anchor="x3", tickvals=[-6, -4, -2],
                ticktext=["−6", "−4", "−2"], ticks="outside", ticklen=12, tickwidth=3, tickcolor="#333",
                tickfont=dict(family=SERIF, size=48, color="#222"), showline=True, mirror=True,
                linecolor="#222", linewidth=2.5, showgrid=False, zeroline=False),
    xaxis4=dict(domain=dom_x(1634, 3056), range=[-0.723, 15.597], anchor="y4", tickvals=[0, 5, 10, 15],
                ticktext=["0", "5", "10", "15"], ticks="outside", ticklen=10, tickwidth=3, tickcolor="#333",
                tickfont=dict(family=SERIF, size=48, color="#4D4D4D"), ticklabelstandoff=-14,
                showline=False, zeroline=False, showgrid=True, gridcolor="white", gridwidth=3.5,
                minor=dict(tickvals=[2.5, 7.5, 12.5], showgrid=True, gridcolor="white", gridwidth=1.7)),
    yaxis4=dict(domain=dom_y(1550, 2855), range=[25.16, 79.59], anchor="x4", tickvals=[30, 40, 50, 60, 70],
                ticktext=["30", "40", "50", "60", "70"], ticks="outside", ticklen=10, tickwidth=3, tickcolor="#333",
                tickfont=dict(family=SERIF, size=48, color="#4D4D4D"), showline=False, zeroline=False,
                showgrid=True, gridcolor="white", gridwidth=3.5,
                minor=dict(tickvals=[35, 45, 55, 65, 75], showgrid=True, gridcolor="white", gridwidth=1.7)),
)

fig.write_html("out.html")
